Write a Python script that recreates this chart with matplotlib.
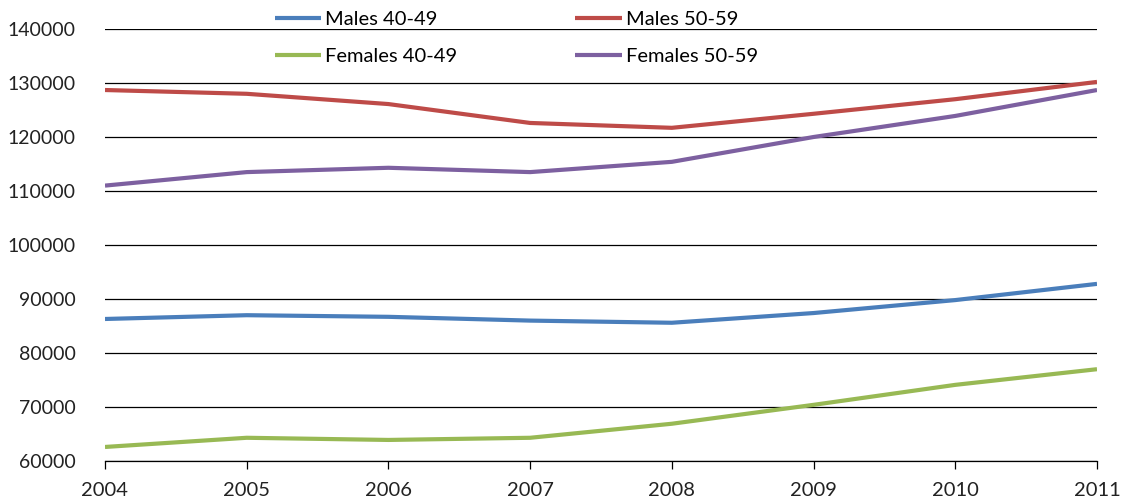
import matplotlib
matplotlib.use("Agg")
import matplotlib.pyplot as plt

plt.rcParams['font.family'] = ['Lato', 'DejaVu Sans']

years = [2004, 2005, 2006, 2007, 2008, 2009, 2010, 2011]
males_40_49 = [86300, 87000, 86700, 86000, 85600, 87400, 89800, 92800]
males_50_59 = [128700, 128000, 126100, 122600, 121700, 124300, 127000, 130200]
females_40_49 = [62600, 64300, 63900, 64300, 66900, 70400, 74100, 77000]
females_50_59 = [111000, 113500, 114300, 113500, 115400, 120000, 123900, 128700]

series = [
    ("Males 40-49", males_40_49, "#4a7ebb"),
    ("Males 50-59", males_50_59, "#be4b48"),
    ("Females 40-49", females_40_49, "#98b954"),
    ("Females 50-59", females_50_59, "#7d60a0"),
]

fig = plt.figure(figsize=(11.28, 5.04), dpi=100)
ax = fig.add_axes([105 / 1128, 1 - 461 / 504, (1097 - 105) / 1128, (461 - 29) / 504])

lines = {}
for label, vals, color in series:
    lines[label], = ax.plot(years, vals, color=color, lw=3, label=label,
                            solid_capstyle='butt')

ax.set_xlim(2004, 2011)
ax.set_ylim(60000, 140000)
ax.set_xticks(years)
ax.set_yticks(range(60000, 140001, 10000))
ax.yaxis.grid(True, color='black', lw=0.9)
ax.set_axisbelow(True)

for side in ['left', 'right', 'top']:
    ax.spines[side].set_visible(False)
ax.spines['bottom'].set_color('black')
ax.spines['bottom'].set_linewidth(0.9)

ax.tick_params(axis='y', length=0, labelsize=14, pad=21, colors='#222222')
ax.tick_params(axis='x', length=6, width=0.9, direction='out', labelsize=14.5,
               pad=9, colors='black', labelcolor='#222222')

# legend fills column-wise, so order the entries to read across rows
order = ["Males 40-49", "Females 40-49", "Males 50-59", "Females 50-59"]
fig.legend([lines[k] for k in order], order, ncol=2, frameon=False,
           loc='upper left', bbox_to_anchor=(264 / 1128, 1.0), fontsize=14.5,
           handlelength=2.3, handletextpad=0.2, columnspacing=5.85,
           labelspacing=1.0, borderaxespad=0.15)

fig.savefig("out.png", dpi=100)
